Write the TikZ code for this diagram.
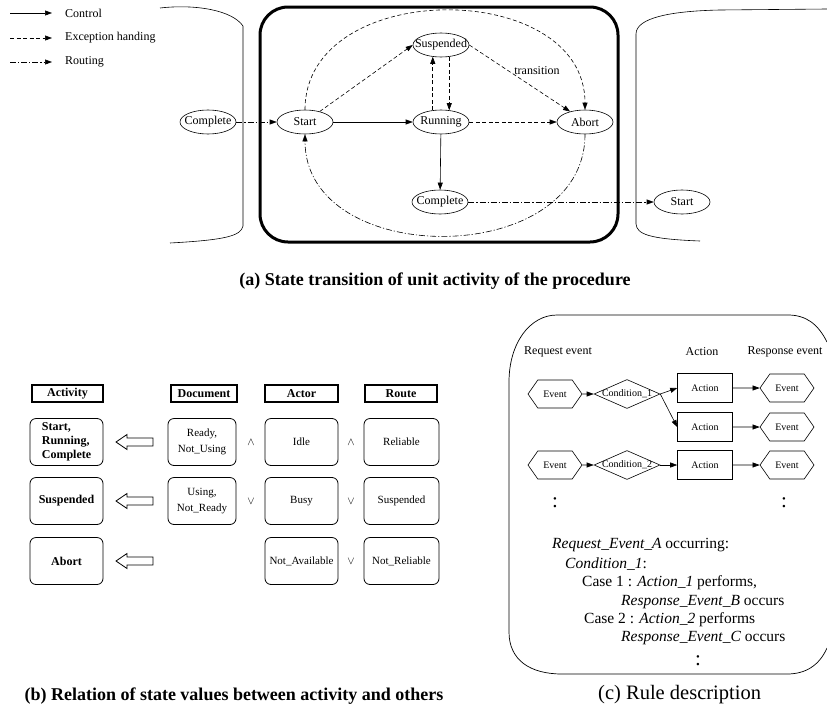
\documentclass[tikz,border=0pt]{standalone}
\usepackage{fontspec}
\setmainfont{Liberation Serif}
\usetikzlibrary{arrows.meta,shapes.geometric,shapes.symbols}
\newcommand{\ptsize}[2]{\fontsize{#1}{#2}\selectfont}

\begin{document}
\begin{tikzpicture}[x=1pt,y=-1pt,
  arr/.style={-{Triangle[length=7pt,width=5pt]}, line width=0.6pt},
  ctrlline/.style={arr},
  excline/.style={arr, dash pattern=on 4pt off 2.5pt},
  routline/.style={arr, dash pattern=on 6pt off 2pt on 1.2pt off 2pt},
  stnode/.style={ellipse, draw, line width=0.6pt, minimum width=56pt, minimum height=24pt,
    inner sep=0pt, label={[font=\ptsize{12}{13}]center:#1}},
  legtxt/.style={anchor=west, inner sep=0pt, font=\ptsize{12}{13}},
  hdrbox/.style={draw, line width=1.3pt, minimum height=17pt, inner sep=1pt, font=\bfseries\ptsize{12}{13}},
  rowbox/.style={draw, rounded corners=6pt, line width=0.8pt, minimum height=47pt, inner sep=1pt,
    align=center, font=\ptsize{11}{16}},
  actbox/.style={rowbox, minimum width=73pt, font=\bfseries\ptsize{12}{14}},
  opsym/.style={inner sep=0pt, font=\ptsize{11}{12}},
  hollowleft/.pic={\draw[line width=0.8pt] (-18.5,0) -- (-7.5,-7.5) -- (-7.5,-4) -- (18.5,-4)
    -- (18.5,4) -- (-7.5,4) -- (-7.5,7.5) -- cycle;},
  evtnode/.style={signal, signal to=east and west, signal pointer angle=110, draw, line width=0.6pt,
    minimum width=54pt, minimum height=28pt, inner sep=0pt, font=\ptsize{10}{11}},
  condnode/.style={diamond, draw, line width=0.6pt, minimum width=66pt, minimum height=29pt, inner sep=0pt,
    label={[font=\ptsize{10}{11}]center:#1}},
  actnode/.style={draw, line width=0.6pt, minimum width=55pt, minimum height=29pt, inner sep=0pt, font=\ptsize{10}{11}},
  colhead/.style={inner sep=0pt, font=\ptsize{12}{13}},
  rtxt/.style={anchor=west, inner sep=0pt, font=\ptsize{15.5}{17}},
  dotsym/.style={inner sep=0pt, font=\ptsize{21}{22}},
  capbold/.style={inner sep=0pt, font=\bfseries\ptsize{18}{20}},
  capreg/.style={inner sep=0pt, font=\ptsize{20.5}{22}}
]
\fill[white] (0,0) rectangle (827,715);
\useasboundingbox (0,0) rectangle (827,715);

% ---------------- legend ----------------
\coordinate (lgA1) at (10,13); \coordinate (lgB1) at (52,13);
\coordinate (lgA2) at (10,38); \coordinate (lgB2) at (52,38);
\coordinate (lgA3) at (10,62); \coordinate (lgB3) at (52,62);
\draw[ctrlline] (lgA1) -- (lgB1);
\draw[excline]  (lgA2) -- (lgB2);
\draw[routline] (lgA3) -- (lgB3);
\node[legtxt] (lgT1) at (65,13) {Control};
\node[legtxt] (lgT2) at (65,38) {Exception handing};
\node[legtxt] (lgT3) at (65,62) {Routing};

% ---------------- (a) neighbouring activities and unit activity ----------------
\draw[line width=0.6pt] (160,8) .. controls (195,4) and (232,10) .. (243,26) -- (243,226)
  .. controls (241,236) and (225,240) .. (170,243);
\draw[line width=0.6pt] (827,9) -- (720,10) .. controls (670,11) and (636,18) .. (636,34) -- (636,224)
  .. controls (637,234) and (648,239) .. (700,241);
\draw[line width=3pt, rounded corners=28pt] (260,7) rectangle (618,242);

\node[stnode=Complete]  (cmpL)   at (208,122) {};
\node[stnode=Start]     (start)  at (305,122) {};
\node[stnode=Suspended] (susp)   at (441,45)  {};
\node[stnode=Running]   (run)    at (441,122) {};
\node[stnode=Abort]     (abort)  at (585,122) {};
\node[stnode=Complete]  (cmp)    at (440,202) {};
\node[stnode=Start]     (startR) at (682,202) {};

\draw[routline] (cmpL) -- (start);
\draw[ctrlline] (start) -- (run);
\draw[excline]  (start) -- (susp.west);
\draw[excline]  (run.125) -- (susp.235);
\draw[excline]  (susp.305) -- (run.55);
\draw[excline]  (run) -- (abort);
\draw[excline]  (susp.east) -- (abort.145);
\node[inner sep=0pt, font=\ptsize{12}{13}] (trlbl) at (537,71) {transition};
\draw[ctrlline] (run) -- (cmp);
\draw[routline] (cmp) -- (startR);
\draw[excline]  (start.north) .. controls +(0,-132) and +(0,-132) .. (abort.north);
\draw[routline] (abort.south) .. controls +(0,135) and +(0,135) .. (start.south);

\node[capbold] (capA) at (435,281) {(a) State transition of unit activity of the procedure};

% ---------------- (b) relation of state values ----------------
\node[hdrbox, minimum width=71pt] (hAct) at (67.5,393.5) {Activity};
\node[hdrbox, minimum width=66pt] (hDoc) at (204,393.5)  {Document};
\node[hdrbox, minimum width=73pt] (hActr) at (301.5,393.5) {Actor};
\node[hdrbox, minimum width=72pt] (hRt) at (401,393.5)   {Route};

\node[actbox, align=left] (aRun) at (66.5,442) {Start,\\Running,\\Complete};
\node[actbox] (aSusp) at (66.5,501) {Suspended};
\node[actbox] (aAbort) at (66.5,561) {Abort};

\pic (ar1) at (134.5,442) {hollowleft};
\pic (ar2) at (134.5,501) {hollowleft};
\pic (ar3) at (134.5,561) {hollowleft};

\node[rowbox, minimum width=68pt] (d1) at (202,442) {Ready,\\Not\_Using};
\node[rowbox, minimum width=68pt] (d2) at (202,501) {Using,\\Not\_Ready};

\node[rowbox, minimum width=73pt] (c1) at (301.5,442) {Idle};
\node[rowbox, minimum width=73pt] (c2) at (301.5,501) {Busy};
\node[rowbox, minimum width=73pt] (c3) at (301.5,561) {Not\_Available};

\node[rowbox, minimum width=75pt] (r1) at (401.5,442) {Reliable};
\node[rowbox, minimum width=75pt] (r2) at (401.5,501) {Suspended};
\node[rowbox, minimum width=75pt] (r3) at (401.5,561) {Not\_Reliable};

\node[opsym] (o11) at (251,442) {$\wedge$};
\node[opsym] (o12) at (251,501) {$\vee$};
\node[opsym] (o21) at (351,442) {$\wedge$};
\node[opsym] (o22) at (351,501) {$\vee$};
\node[opsym] (o23) at (351,561) {$\vee$};

\node[capbold] (capB) at (234,696) {(b) Relation of state values between activity and others};

% ---------------- (c) rule description ----------------
\draw[line width=0.7pt] (827,342) .. controls (818,324) and (806,315) .. (788,315) -- (557,315)
  .. controls (530,315) and (509,343) .. (509,382) -- (509,632)
  .. controls (509,660) and (530,674) .. (562,674) -- (787,674)
  .. controls (805,674) and (819,666) .. (827,648);

\node[colhead] (chReq)  at (558,352) {Request event};
\node[colhead] (chAct)  at (702,352) {Action};
\node[colhead] (chResp) at (785,352) {Response event};

\node[evtnode] (eL1) at (555,394) {Event};
\node[condnode=Condition\_1] (cd1) at (627,394) {};
\node[actnode] (ac1) at (705,388) {Action};
\node[evtnode] (eR1) at (787,388) {Event};
\node[actnode] (ac2) at (705,427) {Action};
\node[evtnode] (eR2) at (787,427) {Event};
\node[evtnode] (eL3) at (555,465) {Event};
\node[condnode=Condition\_2] (cd2) at (627,465) {};
\node[actnode] (ac3) at (705,465) {Action};
\node[evtnode] (eR3) at (787,465) {Event};

\draw[arr] (eL1) -- (cd1);
\draw[arr] (cd1.east) -- (ac1.west);
\draw[arr] (cd1.east) -- (ac2.west);
\draw[arr] (ac1) -- (eR1);
\draw[arr] (ac2) -- (eR2);
\draw[arr] (eL3) -- (cd2);
\draw[arr] (cd2) -- (ac3);
\draw[arr] (ac3) -- (eR3);

\node[dotsym] (vdL) at (555,503) {:};
\node[dotsym] (vdR) at (784,503) {:};

\node[rtxt] (rl1) at (552,545) {\textit{Request\_Event\_A} occurring:};
\node[rtxt] (rl2) at (565,564) {\textit{Condition\_1}:};
\node[rtxt] (rl3) at (582,583) {Case 1 : \textit{Action\_1} performs,};
\node[rtxt] (rl4) at (621,602) {\textit{Response\_Event\_B} occurs};
\node[rtxt] (rl5) at (584,620) {Case 2 : \textit{Action\_2} performs};
\node[rtxt] (rl6) at (621,638) {\textit{Response\_Event\_C} occurs};
\node[dotsym] (vdM) at (698,661) {:};

\node[capreg, anchor=west] (capC) at (598,695) {(c) Rule description};
\end{tikzpicture}
\end{document}
